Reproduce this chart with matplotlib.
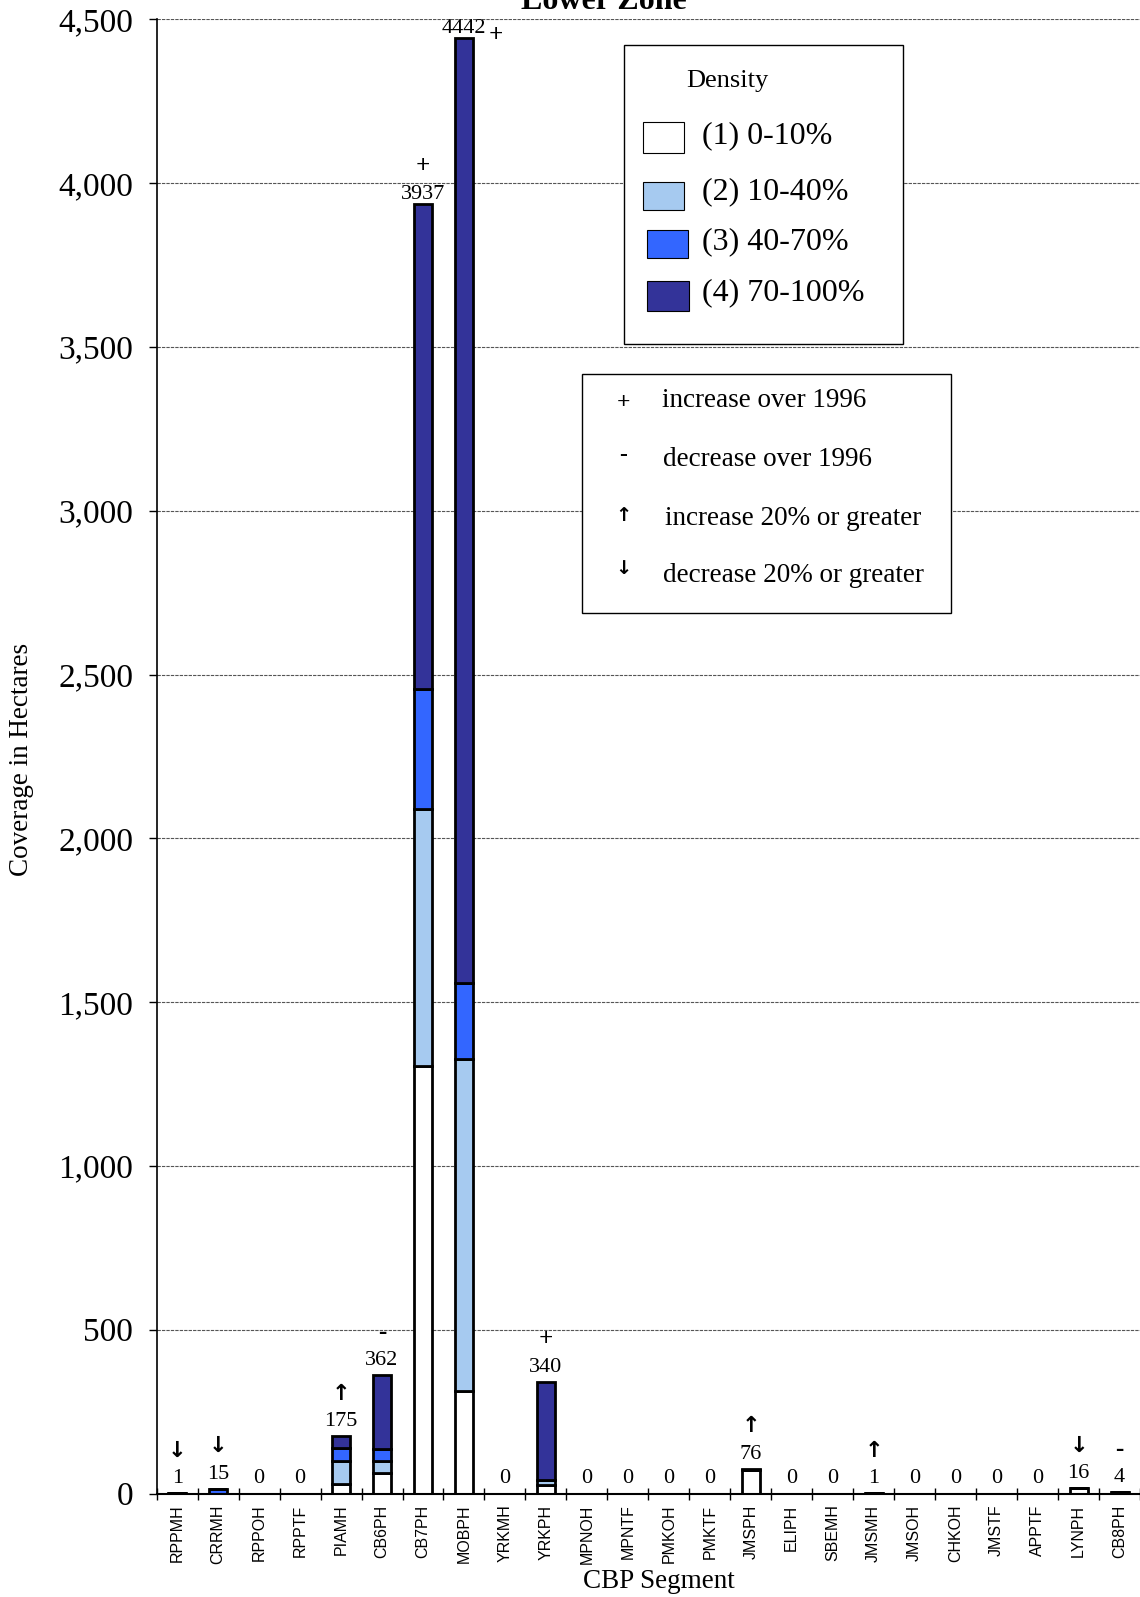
import numpy as np
import matplotlib.pyplot as plt
from matplotlib.patches import Rectangle

plt.rcParams['font.family'] = ['Liberation Serif', 'DejaVu Sans']

# CBP segments, lower zone
segments = ['RPPMH', 'CRRMH', 'RPPOH', 'RPPTF', 'PIAMH', 'CB6PH', 'CB7PH', 'MOBPH',
            'YRKMH', 'YRKPH', 'MPNOH', 'MPNTF', 'PMKOH', 'PMKTF', 'JMSPH', 'ELIPH',
            'SBEMH', 'JMSMH', 'JMSOH', 'CHKOH', 'JMSTF', 'APPTF', 'LYNPH', 'CB8PH']

# hectares per density class
dens1 = [1, 0, 0, 0, 28, 62, 1306, 314, 0, 27, 0, 0, 0, 0, 72, 0, 0, 1, 0, 0, 0, 0, 16, 4]
dens2 = [0, 0, 0, 0, 70, 36, 783, 1011, 0, 14, 0, 0, 0, 0, 0, 0, 0, 0, 0, 0, 0, 0, 0, 0]
dens3 = [0, 15, 0, 0, 41, 38, 368, 232, 0, 0, 0, 0, 0, 0, 0, 0, 0, 0, 0, 0, 0, 0, 0, 0]
dens4 = [0, 0, 0, 0, 36, 226, 1480, 2885, 0, 299, 0, 0, 0, 0, 4, 0, 0, 0, 0, 0, 0, 0, 0, 0]

# change vs 1996
change = ['down', 'down', '', '', 'up', '-', '+', '+', '', '+', '', '', '', '',
          'up', '', '', 'up', '', '', '', '', 'down', '-']

class_labels = ['(1) 0-10%', '(2) 10-40%', '(3) 40-70%', '(4) 70-100%']
colors = ['#FFFFFF', '#A6CAF0', '#3366FF', '#333399']

W, H = 1140, 1597
fig = plt.figure(figsize=(W / 100, H / 100), dpi=100)
ax = fig.add_axes([156.7 / W, 1 - 1493.5 / H, (W - 156.7) / W, (1493.5 - 19.4) / H])

x = np.arange(len(segments))
data = np.array([dens1, dens2, dens3, dens4])
bottom = np.zeros(len(segments))
for vals, c in zip(data, colors):
    ax.bar(x, vals, 0.44, bottom=bottom, color=c, edgecolor='black', linewidth=2, zorder=3)
    bottom += vals
totals = data.sum(axis=0)

sym_text = {'+': '+', '-': '-', 'up': '\u2191', 'down': '\u2193'}
for i, t in enumerate(totals):
    off = 7 if t > 1000 else 10.5
    ax.annotate(str(int(t)), (i, t), xytext=(0, off), textcoords='offset points',
                ha='center', va='center', fontsize=16)
    s = change[i]
    if not s:
        continue
    if t > 4300:
        ax.annotate(sym_text[s], (i, t), xytext=(23, 2), textcoords='offset points',
                    ha='center', va='center', fontsize=18, fontweight='bold')
    elif s in ('up', 'down'):
        ax.annotate(sym_text[s], (i, t), xytext=(0, off + 20), textcoords='offset points',
                    ha='center', va='center', fontsize=16, fontweight='bold',
                    family='DejaVu Sans')
    else:
        ax.annotate(sym_text[s], (i, t), xytext=(0, off + 20), textcoords='offset points',
                    ha='center', va='center', fontsize=18, fontweight='bold')

ax.set_xlim(-0.5, -0.5 + (W - 156.7) / 41.24)
ax.set_ylim(0, 4500)
ax.set_yticks(np.arange(0, 4501, 500))
ax.set_yticklabels([f'{v:,}' for v in range(0, 4501, 500)], fontsize=24)
ax.tick_params(axis='y', direction='out', length=6, width=1, pad=11)
ax.set_xticks(x)
ax.set_xticklabels(segments, rotation=90, fontsize=11.5, family='Liberation Sans')
ax.set_xticks(np.arange(-0.5, len(segments)), minor=True)
ax.tick_params(axis='x', which='major', length=0, pad=8)
ax.tick_params(axis='x', which='minor', direction='inout', length=9, width=1)

ax.grid(axis='y', color='#555555', linestyle=(0, (3, 1)), linewidth=0.8, zorder=0)
for sp in ['top', 'right']:
    ax.spines[sp].set_visible(False)
ax.spines['left'].set_linewidth(1.2)
ax.spines['bottom'].set_linewidth(1.5)
ax.spines['bottom'].set_zorder(4)

fig.text(21.5 / W, 1 - 759 / H, 'Coverage in Hectares', rotation=90, fontsize=19.5,
         ha='center', va='center')
fig.text(659 / W, 1 - 1582 / H, 'CBP Segment', fontsize=19.5, ha='center', va='center')
fig.text(604 / W, 1 - 9 / H, 'Lower Zone', fontsize=23, fontweight='bold',
         ha='center', va='baseline')


def fx(px):
    return px / W


def fy(py):
    return 1 - py / H


def box(x0, y0, x1, y1, **kw):
    fig.add_artist(Rectangle((fx(x0), fy(y1)), fx(x1) - fx(x0), (y1 - y0) / H,
                             transform=fig.transFigure, **kw))


# density legend
box(623.5, 44.8, 902.7, 344.3, facecolor='white', edgecolor='black', linewidth=1, zorder=5)
fig.text(fx(727.4), fy(80.5), 'Density', fontsize=19, ha='center', va='center', zorder=6)
patch_px = [(642.9, 122.3, 683.6, 152.8), (642.9, 182.4, 683.6, 209.9),
            (647, 230.2, 687.7, 257.8), (647, 281.2, 688.7, 310.7)]
text_y = [135.5, 191.5, 241.4, 292.4]
for (a, b, c, d), ty, col, lab in zip(patch_px, text_y, colors, class_labels):
    box(a, b, c, d, facecolor=col, edgecolor='black', linewidth=0.8, zorder=6)
    fig.text(fx(702), fy(ty), lab, fontsize=23, ha='left', va='center', zorder=6)

# change legend
box(581.7, 373.9, 950.5, 613.3, facecolor='white', edgecolor='black', linewidth=1, zorder=5)
sym_rows = [('+', 'increase over 1996', 402.4, 400.4, 662),
            ('-', 'decrease over 1996', 455.4, 459.5, 663),
            ('\u2191', 'increase 20% or greater', 515.5, 518.5, 665),
            ('\u2193', 'decrease 20% or greater', 568.5, 575.6, 663)]
for sym, lab, sy, ty, tx in sym_rows:
    is_arrow = sym in ('\u2191', '\u2193')
    fig.text(fx(623), fy(sy), sym, fontsize=14 if is_arrow else 17, fontweight='bold',
             family='DejaVu Sans' if is_arrow else None, ha='center', va='center', zorder=6)
    fig.text(fx(tx), fy(ty), lab, fontsize=19.5, ha='left', va='center', zorder=6)

fig.savefig('out.png', dpi=100)
